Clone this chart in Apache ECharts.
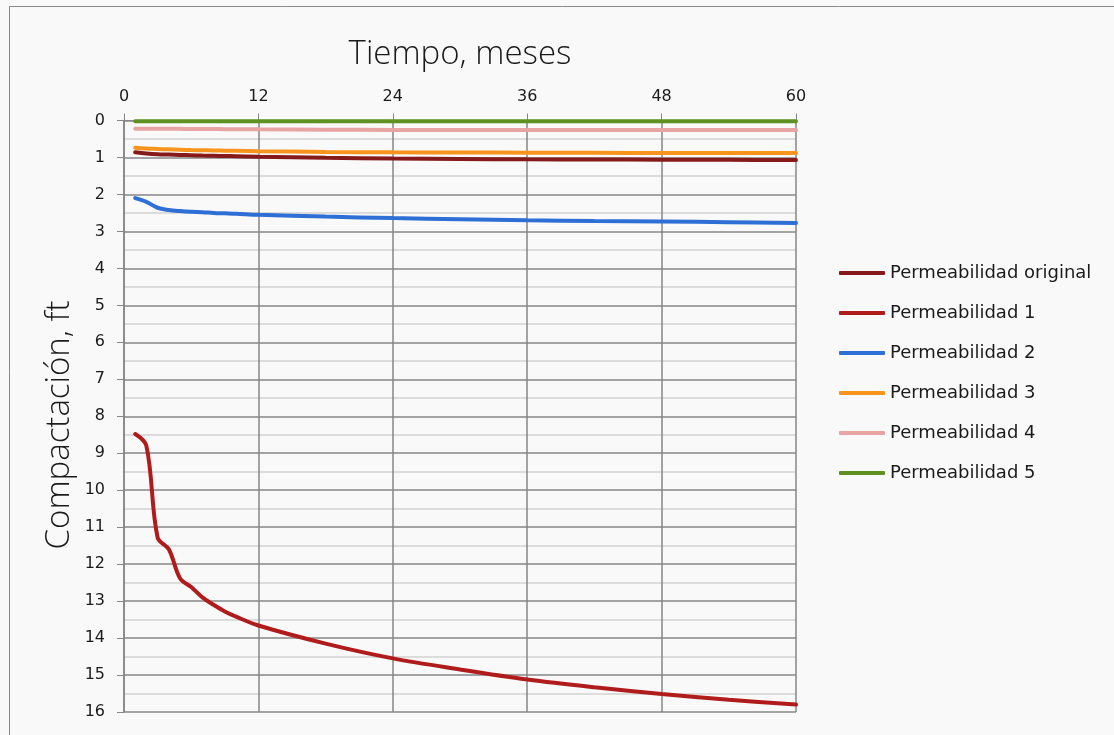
<!DOCTYPE html>
<html>
<head>
<meta charset="utf-8">
<script src="https://cdn.jsdelivr.net/npm/echarts@6/dist/echarts.min.js"></script>
<style>
html,body{margin:0;padding:0;background:#f9f9f9;}
#chart{width:1114px;height:735px;}
</style>
</head>
<body>
<div id="chart"></div>
<script>
// Tiempo (meses)
const months = [1, 2, 3, 4, 5, 6, 7, 8, 9, 10, 12, 18, 24, 30, 36, 42, 48, 54, 60];
const xTicks = [0, 12, 24, 36, 48, 60];
const seriesNames = ['Permeabilidad original', 'Permeabilidad 1', 'Permeabilidad 2', 'Permeabilidad 3', 'Permeabilidad 4', 'Permeabilidad 5'];
const permOriginal = [0.86, 0.89, 0.91, 0.92, 0.93, 0.94, 0.95, 0.955, 0.96, 0.965, 0.98, 1.01, 1.03, 1.04, 1.05, 1.055, 1.06, 1.065, 1.07];
const perm1 = [8.48, 8.8, 11.28, 11.6, 12.38, 12.62, 12.9, 13.1, 13.28, 13.42, 13.66, 14.15, 14.55, 14.85, 15.12, 15.33, 15.51, 15.67, 15.8];
const perm2 = [2.1, 2.2, 2.36, 2.42, 2.45, 2.47, 2.48, 2.5, 2.51, 2.52, 2.55, 2.6, 2.64, 2.67, 2.7, 2.72, 2.73, 2.75, 2.77];
const perm3 = [0.74, 0.76, 0.77, 0.78, 0.79, 0.8, 0.805, 0.81, 0.815, 0.82, 0.83, 0.85, 0.86, 0.865, 0.87, 0.875, 0.88, 0.88, 0.88];
const perm4 = [0.22, 0.22, 0.22, 0.225, 0.225, 0.23, 0.23, 0.23, 0.235, 0.235, 0.24, 0.25, 0.255, 0.26, 0.26, 0.26, 0.26, 0.26, 0.26];
const perm5 = [0.02, 0.02, 0.02, 0.02, 0.02, 0.02, 0.02, 0.02, 0.02, 0.02, 0.02, 0.02, 0.02, 0.02, 0.02, 0.02, 0.02, 0.02, 0.02];
const colors = ['#861a1a', '#b01c1c', '#2e6fd6', '#f7941d', '#e8a3a3', '#5e9022'];

const allValues = [permOriginal, perm1, perm2, perm3, perm4, perm5];
const chart = echarts.init(document.getElementById('chart'), null, {renderer: 'canvas'});
const labelFont = 'DejaVu Sans';
const series = seriesNames.map((name, i) => ({
  name: name,
  type: 'line',
  data: months.map((m, j) => [m, allValues[i][j]]),
  smooth: 0.35,
  showSymbol: false,
  symbol: 'none',
  lineStyle: {width: 4, color: colors[i], cap: 'round'},
  itemStyle: {color: colors[i]},
  z: 10 - i
}));

chart.setOption({
  backgroundColor: '#f9f9f9',
  animation: false,
  grid: {left: 124, right: 318, top: 120.5, bottom: 23, containLabel: false},
  xAxis: {
    type: 'value', position: 'top', min: 0, max: 60, interval: 12,
    axisLine: {show: true, lineStyle: {color: '#868686', width: 1}},
    axisTick: {show: true, length: 7, lineStyle: {color: '#868686'}},
    axisLabel: {color: '#1a1a1a', fontFamily: labelFont, fontSize: 16, margin: 16},
    splitLine: {show: true, lineStyle: {color: '#868686', width: 1.5}}
  },
  yAxis: {
    type: 'value', inverse: true, min: 0, max: 16, interval: 1,
    axisLine: {show: true, lineStyle: {color: '#868686', width: 1.5}},
    axisTick: {show: true, length: 7, lineStyle: {color: '#868686'}},
    axisLabel: {color: '#1a1a1a', fontFamily: labelFont, fontSize: 16, margin: 19},
    splitLine: {show: true, lineStyle: {color: '#868686', width: 1.5}},
    minorTick: {show: false, splitNumber: 2},
    minorSplitLine: {show: true, lineStyle: {color: '#d2d2d2', width: 1.5}}
  },
  legend: {
    orient: 'vertical', left: 834, top: 257,
    itemWidth: 46, itemHeight: 4, itemGap: 18,
    icon: 'roundRect',
    textStyle: {fontFamily: labelFont, fontSize: 18, color: '#1a1a1a', lineHeight: 22, padding: [0, 0, 0, 0]},
    data: seriesNames
  },
  graphic: [
    {type: 'rect', shape: {x: 9.5, y: 6.5, width: 1200, height: 800}, style: {fill: 'none', stroke: '#8a8a8a', lineWidth: 1}, silent: true},
    {type: 'text', x: 460, y: 55, style: {text: 'Tiempo, meses', font: '300 33px "Open Sans"', fill: '#1a1a1a', align: 'center', verticalAlign: 'middle'}},
    {type: 'text', x: 60, y: 425, rotation: Math.PI / 2, style: {text: 'Compactación, ft', font: '300 33px "Open Sans"', fill: '#1a1a1a', align: 'center', verticalAlign: 'middle'}}
  ],
  series: series
});
</script>
</body>
</html>
